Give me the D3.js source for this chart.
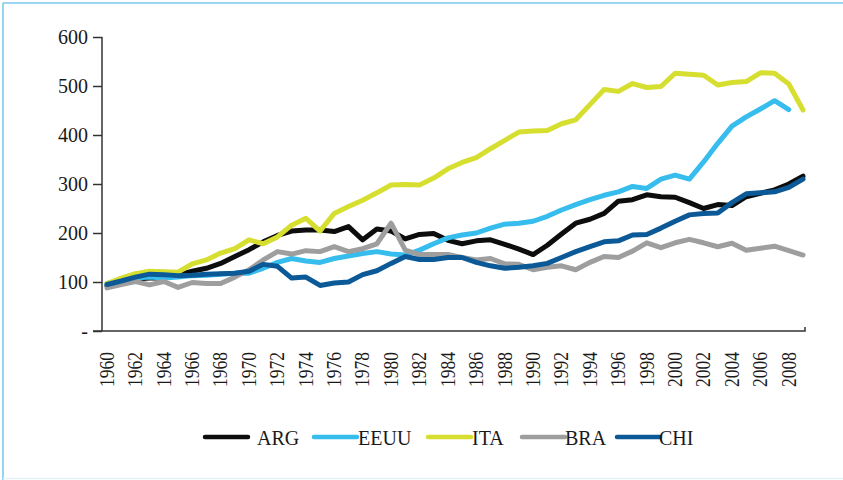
<!DOCTYPE html>
<html>
<head>
<meta charset="utf-8">
<script src="https://cdn.jsdelivr.net/npm/d3@7"></script>
<style>
  html, body { margin: 0; padding: 0; background: #fff; }
  svg { display: block; }
  text { font-family: "Liberation Serif", "DejaVu Serif", serif; fill: #1a1a1a; }
</style>
</head>
<body>
<svg id="chart" width="843" height="480"></svg>
<script>
// Index series, 1960 = ~100
const years = d3.range(1960, 2010);

const arg = [92, 100, 106, 108, 108, 114, 122, 128, 138, 152,
             166, 182, 195, 204, 206, 206, 203, 213, 186, 208,
             204, 188, 197, 199, 185, 178, 184, 186, 177, 167,
             156, 175, 198, 220, 228, 240, 265, 268, 278, 274,
             273, 262, 250, 258, 256, 274, 281, 288, 300, 316];

const eeuu = [97, 103, 108, 110, 108, 110, 113, 114, 116, 118,
              118, 128, 140, 148, 143, 140, 148, 153, 158, 162,
              157, 155, 165, 178, 190, 196, 200, 210, 218, 220,
              224, 234, 247, 258, 268, 277, 284, 295, 291, 310,
              318, 310, 345, 383, 418, 437, 453, 470, 452, null];

const ita = [97, 108, 117, 122, 121, 120, 137, 145, 159, 168,
             186, 178, 192, 216, 230, 204, 240, 254, 267, 282,
             298, 299, 298, 312, 331, 344, 354, 372, 389, 406,
             408, 409, 423, 431, 462, 493, 489, 505, 497, 499,
             526, 524, 522, 502, 507, 509, 527, 526, 504, 451];

const bra = [88, 95, 101, 94, 101, 89, 99, 97, 97, 110,
             125, 145, 162, 157, 164, 162, 172, 162, 168, 178,
             220, 165, 156, 156, 156, 150, 145, 148, 137, 136,
             125, 130, 133, 125, 140, 152, 150, 163, 180, 170,
             180, 187, 180, 172, 179, 165, 169, 173, 164, 155];

const chi = [95, 102, 110, 116, 115, 113, 114, 116, 117, 118,
             122, 136, 132, 108, 110, 93, 98, 100, 115, 123,
             138, 152, 146, 146, 150, 150, 140, 133, 128, 130,
             133, 138, 150, 162, 172, 182, 184, 196, 197, 210,
             224, 237, 240, 241, 262, 280, 282, 284, 293, 310];

const seriesNames = ["ARG", "EEUU", "ITA", "BRA", "CHI"];
const seriesValues = [arg, eeuu, ita, bra, chi];
const seriesColors = ["#0d0d0d", "#36bdee", "#d6de2f", "#9e9e9e", "#0b5a97"];

const yTicks = [0, 100, 200, 300, 400, 500, 600];
const yTickLabels = ["-", "100", "200", "300", "400", "500", "600"];
const xTickYears = d3.range(1960, 2009, 2);

const svg = d3.select("#chart");

// frame
svg.append("line").attr("x1", 3).attr("x2", 843).attr("y1", 3).attr("y2", 3)
  .attr("stroke", "#79cbee").attr("stroke-width", 1.6);
svg.append("line").attr("x1", 3).attr("x2", 3).attr("y1", 3).attr("y2", 480)
  .attr("stroke", "#79cbee").attr("stroke-width", 1.6);
svg.append("line").attr("x1", 3).attr("x2", 843).attr("y1", 478.5).attr("y2", 478.5)
  .attr("stroke", "#e3f1f9").attr("stroke-width", 1.5);

const x = d3.scaleLinear().domain([1960, 2009]).range([107, 803]);
const y = d3.scaleLinear().domain([0, 600]).range([331, 37]);

const axisColor = "#333";

// y axis
const yAxis = svg.append("g").attr("transform", "translate(102,0)")
  .call(d3.axisLeft(y).tickValues(yTicks)
    .tickFormat((d, i) => yTickLabels[i]).tickSize(9).tickPadding(5));
yAxis.select(".domain").attr("d", `M0,${y(600)}V${y(0)}`)
  .attr("stroke", axisColor).attr("stroke-width", 1.5);
yAxis.selectAll(".tick line").attr("stroke", axisColor).attr("stroke-width", 1.5);
yAxis.selectAll(".tick text")
  .style("font-family", "'Liberation Serif', serif")
  .style("font-size", "20px").attr("fill", "#1a1a1a");

// x axis baseline
svg.append("path")
  .attr("d", `M93,${y(0)}H805V${y(0) - 4}`)
  .attr("fill", "none").attr("stroke", axisColor).attr("stroke-width", 1.5);

// x tick labels, rotated
svg.append("g").selectAll("text").data(xTickYears).join("text")
  .attr("transform", d => `translate(${x(d)},352) rotate(-90)`)
  .attr("text-anchor", "end")
  .attr("dy", "0.34em")
  .attr("textLength", 35)
  .attr("lengthAdjust", "spacingAndGlyphs")
  .style("font-size", "20px")
  .text(d => d);

// series lines
const line = d3.line()
  .defined(d => d.v != null)
  .x(d => x(d.year))
  .y(d => y(d.v));

seriesValues.forEach((vals, i) => {
  const pts = years.map((yr, j) => ({ year: yr, v: vals[j] }));
  svg.append("path")
    .datum(pts)
    .attr("d", line)
    .attr("fill", "none")
    .attr("stroke", seriesColors[i])
    .attr("stroke-width", 5)
    .attr("stroke-linejoin", "round")
    .attr("stroke-linecap", "round");
});

// legend
const legendItems = [
  { sx: 205, tx: 257 },
  { sx: 314, tx: 358 },
  { sx: 428, tx: 472 },
  { sx: 522, tx: 565 },
  { sx: 617, tx: 659 }
];
const legend = svg.append("g");
seriesNames.forEach((name, i) => {
  const it = legendItems[i];
  legend.append("line")
    .attr("x1", it.sx).attr("x2", it.sx + 43)
    .attr("y1", 437).attr("y2", 437)
    .attr("stroke", seriesColors[i]).attr("stroke-width", 4.5)
    .attr("stroke-linecap", "round");
  legend.append("text")
    .attr("x", it.tx).attr("y", 445)
    .style("font-size", "20px")
    .text(name);
});
</script>
</body>
</html>
